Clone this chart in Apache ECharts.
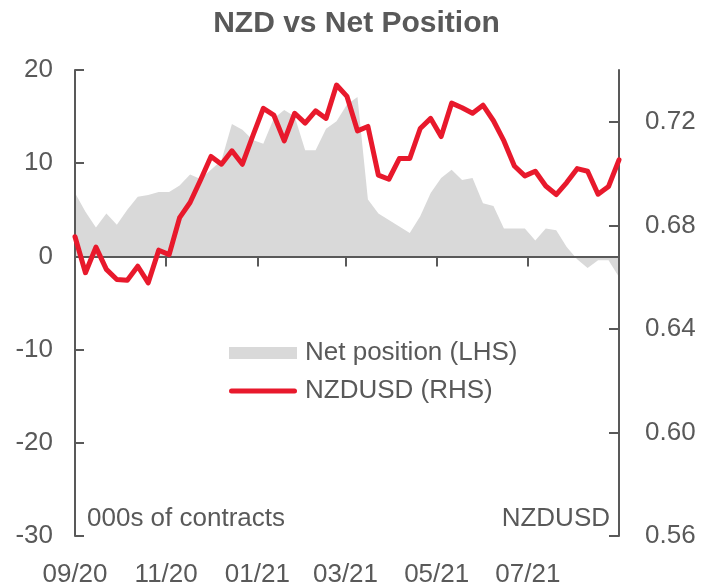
<!DOCTYPE html>
<html>
<head>
<meta charset="utf-8">
<script src="https://cdn.jsdelivr.net/npm/echarts@6/dist/echarts.min.js"></script>
<style>
  html, body { margin: 0; padding: 0; background: #fff; }
  #chart { width: 713px; height: 588px; }
</style>
</head>
<body>
<div id="chart"></div>
<script>
// Weekly observation dates
const dates = [
  '2020-09-01','2020-09-08','2020-09-15','2020-09-22','2020-09-29',
  '2020-10-06','2020-10-13','2020-10-20','2020-10-27',
  '2020-11-03','2020-11-10','2020-11-17','2020-11-24',
  '2020-12-01','2020-12-08','2020-12-15','2020-12-22','2020-12-29',
  '2021-01-05','2021-01-12','2021-01-19','2021-01-26',
  '2021-02-02','2021-02-09','2021-02-16','2021-02-23',
  '2021-03-02','2021-03-09','2021-03-16','2021-03-23','2021-03-30',
  '2021-04-06','2021-04-13','2021-04-20','2021-04-27',
  '2021-05-04','2021-05-11','2021-05-18','2021-05-25',
  '2021-06-01','2021-06-08','2021-06-15','2021-06-22','2021-06-29',
  '2021-07-06','2021-07-13','2021-07-20','2021-07-27',
  '2021-08-03','2021-08-10','2021-08-17','2021-08-24','2021-08-31'
];
// Net position, 000s of contracts (LHS)
const netPosition = [
  6.8, 4.8, 3.1, 4.6, 3.4, 5.0, 6.4, 6.6, 6.9, 6.9,
  7.6, 8.8, 8.3, 9.3, 10.3, 14.2, 13.6, 12.5, 12.1, 14.8,
  15.7, 15.0, 11.4, 11.4, 13.7, 14.5, 16.3, 17.1, 6.1, 4.6,
  3.9, 3.2, 2.5, 4.3, 6.8, 8.4, 9.3, 8.2, 8.4, 5.7,
  5.4, 3.0, 3.0, 3.0, 1.7, 3.0, 2.8, 1.0, -0.3, -1.25,
  -0.4, -0.4, -2.2
];
// NZDUSD (RHS)
const nzdusd = [
  0.6756, 0.6617, 0.6716, 0.6630, 0.6591, 0.6588, 0.6642, 0.6578, 0.6704, 0.6687,
  0.6830, 0.6888, 0.6975, 0.7066, 0.7036, 0.7088, 0.7036, 0.7146, 0.7252, 0.7226,
  0.7126, 0.7233, 0.7195, 0.7242, 0.7213, 0.7342, 0.7298, 0.7165, 0.7182, 0.6994,
  0.6978, 0.7058, 0.7058, 0.7174, 0.7213, 0.7143, 0.7272, 0.7254, 0.7233, 0.7264,
  0.7204, 0.7126, 0.7029, 0.6991, 0.7009, 0.6952, 0.6919, 0.6965, 0.7019, 0.7009,
  0.6920, 0.6950, 0.7053
];
const xTickDates = ['2020-09-01','2020-11-01','2021-01-01','2021-03-01','2021-05-01','2021-07-01'];
const xTickLabels = ['09/20','11/20','01/21','03/21','05/21','07/21'];
const rightTicks = [0.56, 0.60, 0.64, 0.68, 0.72];

const FONT = '"Liberation Sans", Arial, sans-serif';
const GREY = '#595959';
const RED = '#E8192C';

function dayOf(s) {
  const p = s.split('-').map(Number);
  return Math.round((Date.UTC(p[0], p[1] - 1, p[2]) - Date.UTC(2020, 8, 1)) / 864e5);
}
const xDays = dates.map(dayOf);
const xTickDays = xTickDates.map(dayOf);
const xMin = xDays[0], xMax = xDays[xDays.length - 1];

const chart = echarts.init(document.getElementById('chart'));
chart.setOption({
  animation: false,
  backgroundColor: '#fff',
  textStyle: { fontFamily: FONT },
  title: {
    text: 'NZD vs Net Position',
    left: 'center',
    top: 4,
    textStyle: { fontFamily: FONT, fontSize: 30, fontWeight: 'bold', color: GREY }
  },
  grid: { left: 75, right: 94, top: 70, bottom: 51, containLabel: false },
  legend: {
    orient: 'vertical',
    left: 224,
    top: 334,
    itemWidth: 68,
    itemHeight: 12,
    itemGap: 10,
    textStyle: { fontFamily: FONT, fontSize: 26, color: GREY, lineHeight: 28, padding: [0, 0, 0, 3] },
    data: [
      { name: 'Net position (LHS)', icon: 'rect', itemStyle: { color: '#D9D9D9' } },
      {
        name: 'NZDUSD (RHS)',
        icon: 'path://M2.5,0 L65.5,0 A2.5,2.5 0 0 1 65.5,5 L2.5,5 A2.5,2.5 0 0 1 2.5,0 Z',
        itemStyle: { color: RED, borderWidth: 0 },
        lineStyle: { width: 0 }
      }
    ]
  },
  xAxis: [
    {
      type: 'value', min: xMin, max: xMax, position: 'bottom',
      axisLine: { show: false, onZero: false },
      axisTick: { show: false },
      splitLine: { show: false },
      axisLabel: {
        customValues: xTickDays,
        margin: 26,
        fontFamily: FONT, fontSize: 26, color: GREY,
        formatter: function (v) {
          const i = xTickDays.indexOf(Math.round(v));
          return i >= 0 ? xTickLabels[i] : '';
        }
      }
    },
    {
      type: 'value', min: xMin, max: xMax, position: 'bottom', z: 5,
      axisLine: { show: true, onZero: true, onZeroAxisIndex: 0, lineStyle: { color: GREY, width: 2 } },
      axisTick: { show: true, customValues: xTickDays, length: 10, inside: false, lineStyle: { color: GREY, width: 2 } },
      axisLabel: { show: false },
      splitLine: { show: false }
    }
  ],
  yAxis: [
    {
      type: 'value', min: -30, max: 20, interval: 10, position: 'left', z: 5,
      axisLine: { show: true, onZero: false, lineStyle: { color: GREY, width: 2 } },
      axisTick: { show: true, inside: true, length: 9, lineStyle: { color: GREY, width: 2 } },
      axisLabel: { margin: 22, fontFamily: FONT, fontSize: 26, color: GREY },
      splitLine: { show: false }
    },
    {
      type: 'value', min: 0.56, max: 0.74, interval: 0.04, position: 'right', z: 5,
      axisLine: { show: true, onZero: false, lineStyle: { color: GREY, width: 2 } },
      axisTick: { show: true, inside: true, length: 10, customValues: rightTicks, lineStyle: { color: GREY, width: 2 } },
      axisLabel: {
        customValues: rightTicks,
        margin: 26, fontFamily: FONT, fontSize: 26, color: GREY,
        formatter: function (v) { return v.toFixed(2); }
      },
      splitLine: { show: false }
    }
  ],
  series: [
    {
      name: 'Net position (LHS)',
      type: 'line',
      xAxisIndex: 0, yAxisIndex: 0,
      data: xDays.map((d, i) => [d, netPosition[i]]),
      symbol: 'none',
      z: 1,
      color: '#D9D9D9',
      itemStyle: { color: '#D9D9D9' },
      lineStyle: { width: 0, opacity: 0 },
      areaStyle: { color: '#D9D9D9', opacity: 1, origin: 'auto' }
    },
    {
      name: 'NZDUSD (RHS)',
      type: 'line',
      xAxisIndex: 0, yAxisIndex: 1,
      data: xDays.map((d, i) => [d, nzdusd[i]]),
      symbol: 'none',
      z: 10,
      color: RED,
      lineStyle: { color: RED, width: 5, cap: 'round', join: 'round' }
    }
  ],
  graphic: [
    {
      type: 'text', left: 87, top: 506, z: 20,
      style: { text: '000s of contracts', fontFamily: FONT, fontSize: 26, fill: GREY }
    },
    {
      type: 'text', right: 103, top: 506, z: 20,
      style: { text: 'NZDUSD', fontFamily: FONT, fontSize: 26, fill: GREY }
    }
  ]
});
</script>
</body>
</html>
